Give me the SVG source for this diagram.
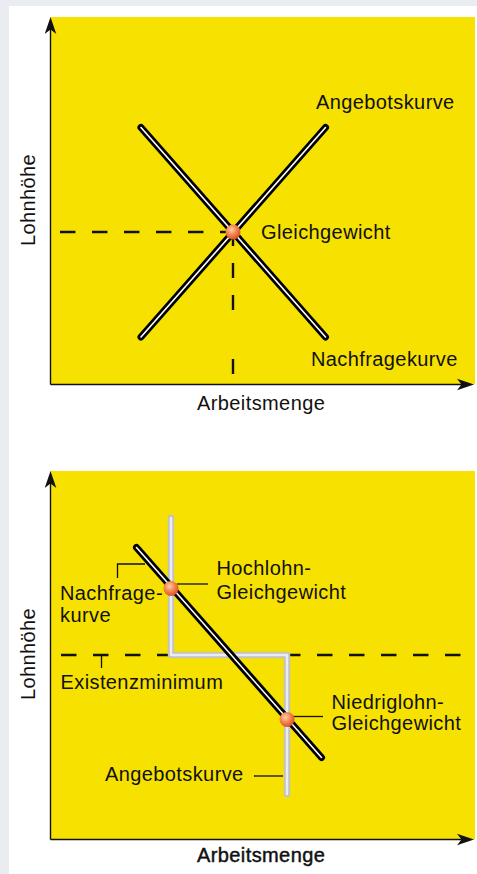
<svg xmlns="http://www.w3.org/2000/svg" width="477" height="874" viewBox="0 0 477 874">
<style>
text{font-family:"Liberation Sans",Arial,sans-serif;font-size:20px;fill:#111;letter-spacing:0.4px}
.panel{fill:#f6e100}
.axis{stroke:#111;stroke-width:1.4;fill:none}
.dash{stroke:#111;stroke-width:2.4;fill:none;stroke-dasharray:15.5 16.5}
.lead{stroke:#111;stroke-width:1.3;fill:none}
.blk{stroke:#000;stroke-width:7;stroke-linecap:round;fill:none}
.wht{stroke:#fff;stroke-width:1.6;stroke-linecap:round;fill:none}
.gry{stroke:#c2c2c2;stroke-width:6.5;stroke-linecap:round;stroke-linejoin:round;fill:none}
.gryin{stroke:#ececec;stroke-width:2.5;stroke-linecap:round;stroke-linejoin:round;fill:none}
.ball{fill:url(#bg)}
</style>
<defs>
<radialGradient id="bg" cx="0.4" cy="0.35" r="0.7">
<stop offset="0" stop-color="#ffd2a6"/>
<stop offset="0.45" stop-color="#f58a55"/>
<stop offset="1" stop-color="#d9481e"/>
</radialGradient>
<path id="ah" d="M0,0 L-5.8,17 L0,12.5 L5.8,17 Z" fill="#111"/>
</defs>
<rect x="0" y="0" width="477" height="874" fill="#e9edf1"/>
<rect x="9" y="6" width="468" height="868" fill="#fff"/>

<g id="chart1">
<rect class="panel" x="50.5" y="17" width="424.5" height="367.5"/>
<g id="axes1">
<path class="axis" d="M50.5,384.5 V28"/>
<use href="#ah" transform="translate(50.5,17)"/>
<path class="axis" d="M50.5,384.5 H462"/>
<use href="#ah" transform="translate(474,384.5) rotate(90)"/>
</g>
<g id="connectors1">
<path class="dash" d="M60,232 H233"/>
<path class="dash" d="M233,231 V246 M233,263 V278 M233,295 V310 M233,359 V374" style="stroke-dasharray:none"/>
</g>
<g id="angebot1">
<path class="blk" d="M141,337 L325.5,127.5"/>
<path class="wht" d="M141,337 L325.5,127.5"/>
</g>
<g id="nachfrage1">
<path class="blk" d="M141,127.5 L325.5,337"/>
<path class="wht" d="M141,127.5 L325.5,337"/>
</g>
<g id="gleichgewicht1">
<circle class="ball" cx="233" cy="232" r="7.5"/>
<text x="261" y="239">Gleichgewicht</text>
</g>
<text id="lbl-angebot1" x="316" y="109">Angebotskurve</text>
<text id="lbl-nachfrage1" x="311" y="366">Nachfragekurve</text>
<text id="lbl-x1" x="197" y="410">Arbeitsmenge</text>
<text id="lbl-y1" transform="translate(35,200) rotate(-90)" text-anchor="middle">Lohnhöhe</text>
</g>

<g id="chart2">
<rect class="panel" x="50.5" y="471" width="424.5" height="368.5"/>
<g id="axes2">
<path class="axis" d="M50.5,839.5 V482"/>
<use href="#ah" transform="translate(50.5,471)"/>
<path class="axis" d="M50.5,839.5 H462"/>
<use href="#ah" transform="translate(474,839.5) rotate(90)"/>
</g>
<g id="connectors2">
<path class="dash" d="M61,655 H462"/>
<path class="lead" d="M101.5,655 V668"/>
<path class="lead" d="M117.5,578 V564 H145"/>
<path class="lead" d="M177,584 H208"/>
<path class="lead" d="M293,716.5 H323"/>
<path class="lead" d="M254,776 H283"/>
</g>
<g id="angebot2">
<path class="gry" d="M171,518 V655 H287 V794"/>
<path class="gryin" d="M171,518 V655 H287 V794"/>
</g>
<g id="nachfrage2">
<path class="blk" d="M136.5,547.5 L321.5,757.5"/>
<path class="wht" d="M136.5,547.5 L321.5,757.5"/>
</g>
<g id="hochlohn">
<circle class="ball" cx="171" cy="588.5" r="7.5"/>
<text x="216.5" y="575">Hochlohn-</text>
<text x="216.5" y="598.5">Gleichgewicht</text>
</g>
<g id="niedriglohn">
<circle class="ball" cx="287" cy="719.5" r="7.5"/>
<text x="331.5" y="708.5">Niedriglohn-</text>
<text x="331.5" y="730">Gleichgewicht</text>
</g>
<g id="lbl-nachfrage2">
<text x="60" y="600">Nachfrage-</text>
<text x="60" y="621.5">kurve</text>
</g>
<text id="lbl-exist" x="60.5" y="688.5">Existenzminimum</text>
<text id="lbl-angebot2" x="105" y="781">Angebotskurve</text>
<text id="lbl-x2" x="197" y="862" style="stroke:#111;stroke-width:0.45">Arbeitsmenge</text>
<text id="lbl-y2" transform="translate(35,654) rotate(-90)" text-anchor="middle">Lohnhöhe</text>
</g>
</svg>
